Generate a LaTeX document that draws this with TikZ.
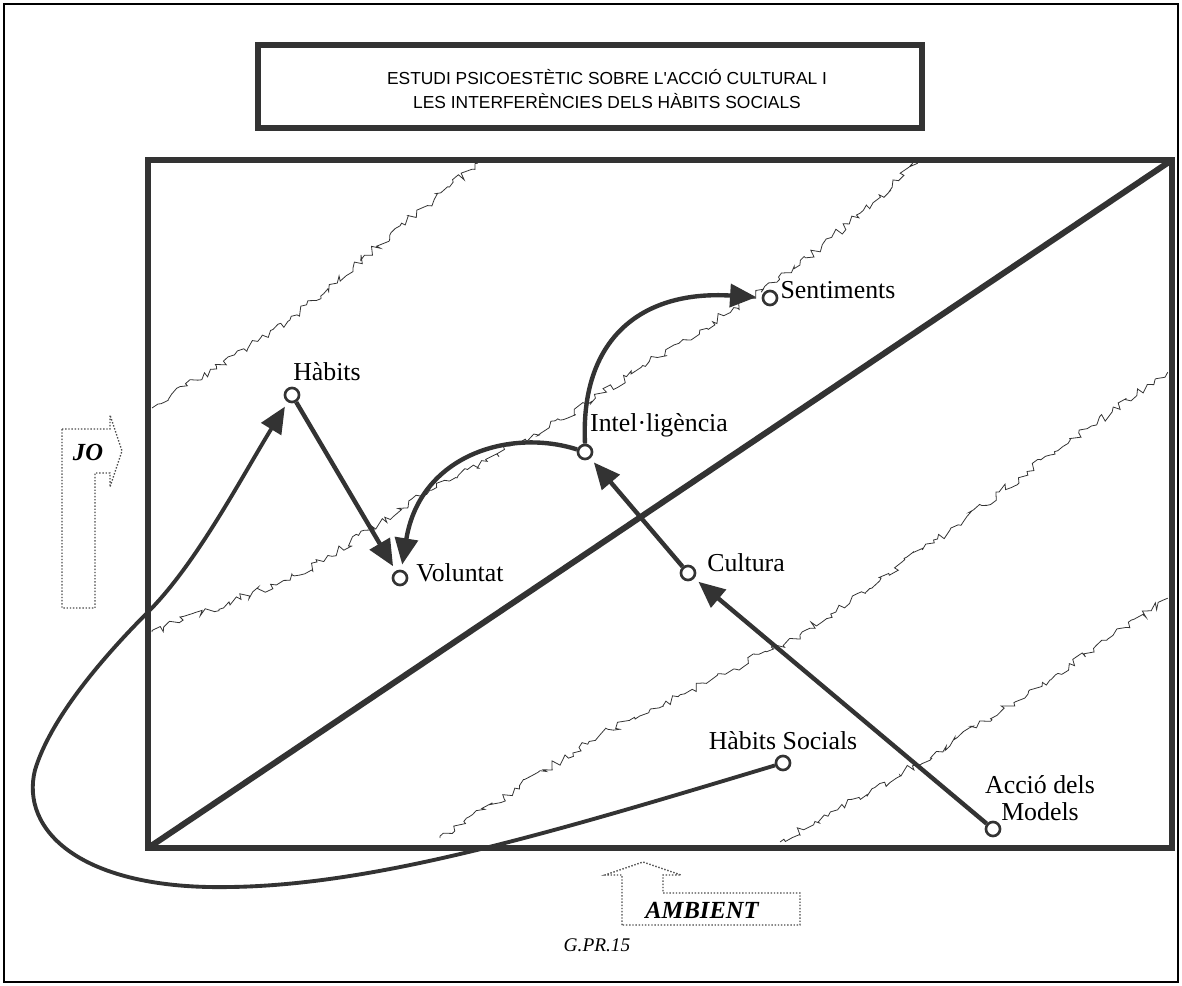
\documentclass[tikz,border=0pt]{standalone}
\usepackage{fontspec}
\setmainfont{Liberation Serif}
\newfontfamily\titlefont{Liberation Sans}
\usetikzlibrary{arrows.meta,decorations.pathmorphing}
\definecolor{ink}{gray}{0.2}

\begin{document}
\begin{tikzpicture}[x=0.02cm,y=-0.02cm,
        dot/.style={circle,draw=ink,line width=1.5pt,fill=white,minimum size=8pt,
            inner sep=0pt},
        lbl/.style={font=\fontsize{14.7}{15}\selectfont,inner sep=0pt,align=center},
        arr/.style={draw=ink,line width=2.5pt,-{Triangle[length=15pt,width=13pt]},
            shorten >=3pt},
        frame/.style={draw=ink,line width=3.4pt},
        noise/.style={ink,line width=0.45pt,decorate,
            decoration={random steps,segment length=2.4pt,amplitude=2.4pt}},
        dotbox/.style={black!70,densely dotted,line width=0.8pt}]
\useasboundingbox (0,0) rectangle (1182,986);
\draw[line width=1pt] (4,4) rectangle (1178,982);

% title
\draw[ink,line width=3pt] (258,45) rectangle (922,128);
\node[font=\titlefont\fontsize{9.9}{13.6}\selectfont,align=center] (title) at (607,89)
    {ESTUDI PSICOESTÈTIC SOBRE L'ACCIÓ CULTURAL I\\LES INTERFERÈNCIES DELS HÀBITS SOCIALS};

% background lines
\pgfmathsetseed{11}
\draw[noise] (152,408) -- (290,320) -- (390,235) -- (478,163);
\draw[noise] (152,632) -- (300,575) -- (430,490) -- (560,420) -- (700,330) -- (800,265) -- (918,163);
\draw[noise] (440,838) -- (600,735) -- (800,635) -- (950,530) -- (1050,455) -- (1168,372);
\draw[noise] (780,842) -- (900,775) -- (1050,680) -- (1168,598);

\draw[frame] (148,160) rectangle (1172,848);
\draw[frame] (148,848) -- (1172,160);

% JO and AMBIENT
\draw[dotbox] (62,429) -- (110,429) -- (110,415) -- (122,451) -- (110,487) -- (110,473)
    -- (95,473) -- (95,608) -- (62,608) -- cycle;
\node[font=\bfseries\itshape\fontsize{14}{16}\selectfont] (jo) at (88,452) {JO};
\draw[dotbox] (622,925) -- (622,875) -- (605,875) -- (643,862) -- (681,875) -- (663,875)
    -- (663,893) -- (800,893) -- (800,925) -- cycle;
\node[font=\bfseries\itshape\fontsize{14}{16}\selectfont] (ambient) at (702,910) {AMBIENT};

% points
\node[dot] (habits) at (292,395) {};
\node[dot] (voluntat) at (400,578) {};
\node[dot] (intel) at (585,452) {};
\node[dot] (sentiments) at (770,298) {};
\node[dot] (cultura) at (688,573) {};
\node[dot] (habsoc) at (783,763) {};
\node[dot] (models) at (993,829) {};

\node[lbl] (habitsL) at (327,372) {Hàbits};
\node[lbl] (voluntatL) at (460,573) {Voluntat};
\node[lbl] (intelL) at (659,425) {Intel·ligència};
\node[lbl] (sentimentsL) at (838,290) {Sentiments};
\node[lbl] (culturaL) at (746,563) {Cultura};
\node[lbl] (habsocL) at (783,741) {Hàbits Socials};
\node[lbl] (modelsL) at (1040,798) {Acció dels\\Models};

% arrows
\draw[arr] (habits) -- (voluntat);
\draw[arr] (cultura) -- (intel);
\draw[arr] (models) -- (cultura);
\draw[arr] (intel) .. controls (510,428) and (420,455) .. (voluntat);
\draw[arr] (intel.north) .. controls (580,340) and (640,290) .. (sentiments);
\draw[arr,line width=2.2pt] (habsoc) .. controls (560,830) and (380,885) .. (230,887)
    .. controls (80,890) and (20,830) .. (35,770)
    .. controls (50,720) and (100,660) .. (148,612)
    .. controls (196,564) and (240,480) .. (habits);

\node[font=\itshape\fontsize{11}{13}\selectfont] (code) at (597,945) {G.PR.15};
\end{tikzpicture}
\end{document}
